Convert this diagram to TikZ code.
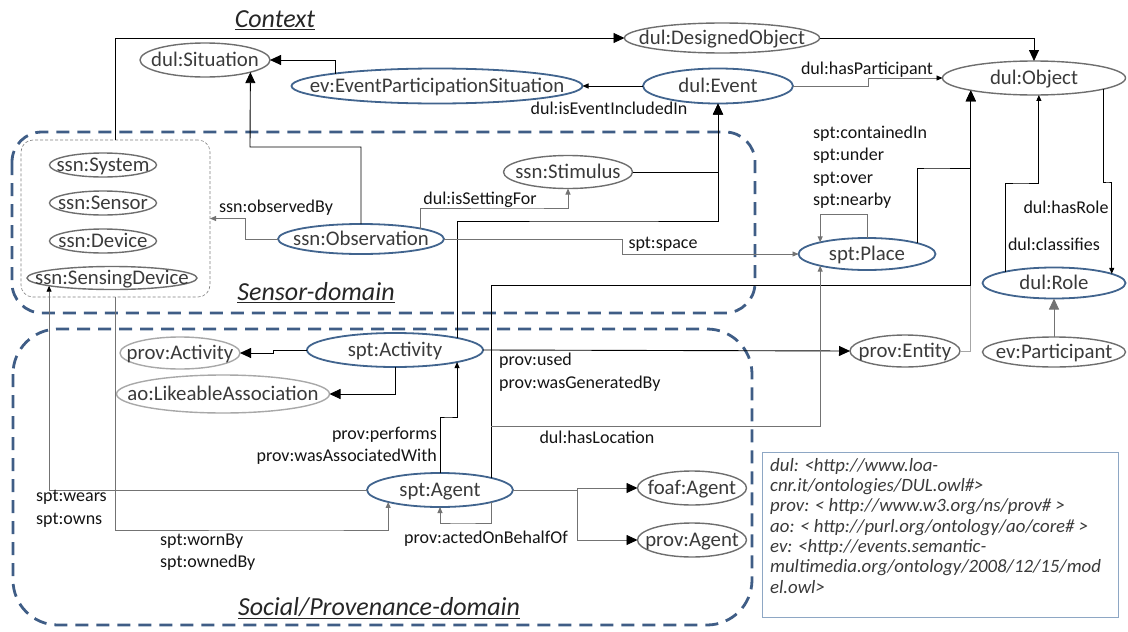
\documentclass[tikz,border=0pt]{standalone}
\usepackage{fontspec}
\setmainfont{Carlito}
\usetikzlibrary{arrows.meta,shapes.geometric}
\definecolor{eblue}{HTML}{41648E}
\definecolor{egray}{HTML}{6E6E6E}
\definecolor{elight}{HTML}{A8A8A8}
\definecolor{dblue}{HTML}{3F5D86}
\definecolor{lgborder}{HTML}{8EA7C4}
\definecolor{txt}{HTML}{3A3A3A}
\newcommand{\ct}[1]{\raisebox{-0.32em}[0pt][0pt]{\makebox[0pt]{#1}}}
\tikzset{
  ell/.style={ellipse, inner sep=0pt, outer sep=0pt, font=\fontsize{20.8}{24}\selectfont, text=txt},
  eb/.style={ell, draw=eblue, line width=1.8pt},
  eg/.style={ell, draw=egray, line width=1.4pt},
  el/.style={ell, draw=elight, line width=1.4pt},
  sz/.style 2 args={minimum width=#1pt, minimum height=#2pt},
  lab/.style={font=\fontsize{18}{22.5}\selectfont, text=black!92, inner sep=0pt},
  ttl/.style={font=\fontsize{26}{30}\selectfont\itshape, text=black!85, inner sep=0pt},
  blk/.style={draw=black, line width=0.9pt},
  gry/.style={draw=black!55, line width=0.9pt},
  lgry/.style={draw=black!35, line width=0.9pt},
  bigA/.style={-{Triangle[length=11pt,width=10pt]}},
  bigAk/.style={-{Triangle[length=11pt,width=10pt,color=black]}},
  smA/.style={-{Triangle[length=6pt,width=5pt]}},
  smAk/.style={-{Triangle[length=6pt,width=5pt,color=black]}},
  dom/.style={draw=dblue, line width=2.8pt, dash pattern=on 13pt off 8pt},
}
\begin{document}
\begin{tikzpicture}[x=1pt,y=-1pt]
\useasboundingbox (0,0) rectangle (1128,632);

% domain frames
\draw[dom, rounded corners=30pt] (12,132) rectangle (755,313);
\draw[dom, rounded corners=45pt] (13,329) rectangle (752,625);

% titles
\node[ttl] (ctx) at (275,20) {\underline{Context}};
\node[ttl] (sdom) at (316,293) {\underline{Sensor-domain}};
\node[ttl] (pdom) at (379,608) {\underline{Social/Provenance-domain}};

% nodes
\node[eg, sz={130}{34}] (sit) at (205,60) {\ct{dul:Situation}};
\node[eb, sz={291}{35}] (evs) at (437,86) {\ct{ev:EventParticipationSituation}};
\node[eb, sz={150}{35}] (event) at (718,86) {\ct{dul:Event}};
\node[eg, sz={195}{30}] (desobj) at (722,38) {\ct{dul:DesignedObject}};
\node[eg, sz={183}{34}] (obj) at (1034,78) {\ct{dul:Object}};

\node[draw=black!50, line width=0.6pt, dash pattern=on 3pt off 2pt, rounded corners=12pt,
      minimum width=189pt, minimum height=157pt, inner sep=0pt, outer sep=0pt] (ssnbox) at (115.5,218.5) {};
\node[eg, sz={107}{24}] (sys) at (103,165) {\ct{ssn:System}};
\node[eg, sz={107}{24}] (sensor) at (103,203) {\ct{ssn:Sensor}};
\node[eg, sz={107}{24}] (device) at (103,241) {\ct{ssn:Device}};
\node[eg, sz={170}{23}] (sdev) at (112,278) {\ct{ssn:SensingDevice}};

\node[eb, sz={166}{30}] (obs) at (361,239) {\ct{ssn:Observation}};
\node[eg, sz={129}{33}] (stim) at (568,172) {\ct{ssn:Stimulus}};
\node[eb, sz={137}{32}] (place) at (867,254) {\ct{spt:Place}};
\node[eb, sz={143}{31}] (role) at (1054,283) {\ct{dul:Role}};
\node[eg, sz={143}{30}] (part) at (1054,352) {\ct{ev:Participant}};
\node[eg, sz={110}{32}] (entity) at (905,351) {\ct{prov:Entity}};

\node[eb, sz={176}{34}] (act) at (395,350) {\ct{spt:Activity}};
\node[el, sz={120}{32}] (pact) at (180,353) {\ct{prov:Activity}};
\node[el, sz={213}{38}] (lik) at (223,394) {\ct{ao:LikeableAssociation}};
\node[eb, sz={146}{34}] (agent) at (440,490) {\ct{spt:Agent}};
\node[eg, sz={109}{34}] (foaf) at (692,488) {\ct{foaf:Agent}};
\node[eg, sz={109}{34}] (pag) at (692,540) {\ct{prov:Agent}};

% legend
\node[draw=lgborder, line width=1pt, minimum width=356pt, minimum height=165pt,
      anchor=north west, inner sep=0pt, outer sep=0pt] (leg) at (762,452) {};
\node[anchor=north west, align=left, inner sep=0pt, text=txt,
      font=\fontsize{18.8}{20.3}\selectfont\itshape] (legtxt) at (770,458)
  {dul: <http://www.loa-\\cnr.it/ontologies/DUL.owl\#>\\prov: < http://www.w3.org/ns/prov\# >\\ao: < http://purl.org/ontology/ao/core\# >\\ev: <http://events.semantic-\\multimedia.org/ontology/2008/12/15/mod\\el.owl>};

% junction coordinates
\coordinate (j0) at (577,490);
\coordinate (jb) at (491,426);

% context connectors
\draw[blk,bigA] (ssnbox.north) |- (desobj.west);
\draw[blk,bigA] (desobj.east) -| (obj.north);
\draw[blk,bigA] (evs.173) |- (sit.east);
\draw[blk,smA] (event.west) -- (evs.east);
\draw[gry,smAk] (event.east) -- (868,86) |- (obj.west);
\draw[blk,bigA] (obs.north) |- (250,147) -- (sit.-15);

% sensor connectors
\draw[gry,smA] (obs.west) -- (245,239) |- (ssnbox.east);
\draw[gry,smA] (obs.10) |- (520,208) -| (stim.south);
\draw[blk,bigA] (stim.east) -| (event.south);
\draw[blk,bigA] (act.11) |- (600,221) -| (event.south);
\draw[gry,smA] (obs.east) -- (622,239) |- (place.west);
\draw[gry,smA] (place.north) -- (867,214) -| (place.166);
\draw[lgry] (entity.east) -| (obj.191);
\draw[blk,bigA] (place.12) |- (930,168) -| (obj.191);
\draw[blk,smA] (role.167) |- (1020,183) -| (obj.-74);
\draw[blk,smA] (obj.-9) |- (1108,182) -| (role.9);
\draw[gry,bigA] (part.north) -- (role.south);

% social connectors
\draw[blk,bigA] (act.west) -- (273,350) |- (pact.east);
\draw[blk,bigA] (act.south) |- (lik.east);
\draw[blk,smA] (agent.north) |- (448,417) -| (act.-11);
\draw[blk,bigA] (act.east) -- (entity.west);
\draw[gry,smAk] (agent.west) -| (sdev.187);
\draw[gry,smA] (ssnbox.south) |- (300,530) -| (agent.193);
\draw[gry,bigAk] (agent.east) -- (j0) |- (foaf.west);
\draw[gry,bigAk] (j0) |- (pag.west);
\draw[blk,bigA] (agent.13) -- (agent.13 |- 0,285) -| (obj.191);
\draw[gry,smA] (agent.-13) |- (460,523) -| (agent.south);
\draw[gry,smA] (jb) -| (place.194);

% labels
\node[lab] (l1) at (609,108) {dul:isEventIncludedIn};
\node[lab] (l2) at (867,70) {dul:hasParticipant};
\node[lab] (l3) at (276,208) {ssn:observedBy};
\node[lab] (l4) at (480,200) {dul:isSettingFor};
\node[lab] (l5) at (663,244) {spt:space};
\node[lab, anchor=west, align=left] (l6) at (813,167) {spt:containedIn\\spt:under\\spt:over\\spt:nearby};
\node[lab] (l7) at (1066,207) {dul:hasRole};
\node[lab] (l8) at (1054,244) {dul:classifies};
\node[lab, anchor=west, align=left] (l9) at (499,372) {prov:used\\prov:wasGeneratedBy};
\node[lab] (l10) at (597,437) {dul:hasLocation};
\node[lab, anchor=east, align=right] (l11) at (437,446) {prov:performs\\prov:wasAssociatedWith};
\node[lab, anchor=west, align=left] (l12) at (36,509) {spt:wears\\spt:owns};
\node[lab, anchor=west, align=left] (l13) at (160,552) {spt:wornBy\\spt:ownedBy};
\node[lab] (l14) at (486,539) {prov:actedOnBehalfOf};
\end{tikzpicture}
\end{document}
